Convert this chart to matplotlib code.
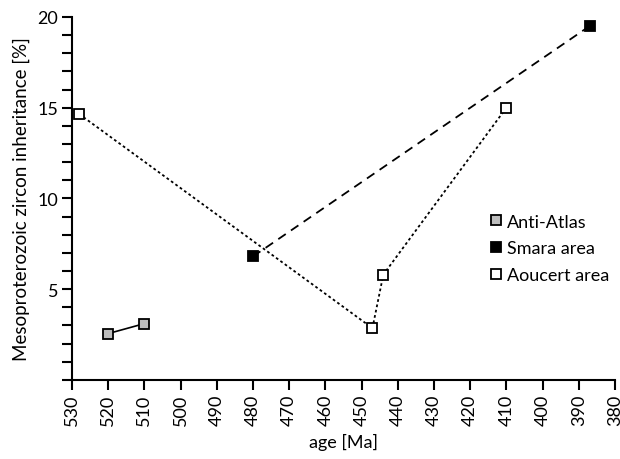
import matplotlib
matplotlib.use("Agg")
import matplotlib.pyplot as plt
from matplotlib.ticker import MultipleLocator

plt.rcParams['font.family'] = ['Lato', 'DejaVu Sans']

# age [Ma] and Mesoproterozoic inheritance [%] per area
anti_atlas_age = [520, 510]
anti_atlas_pct = [2.55, 3.1]
smara_age = [480, 387]
smara_pct = [6.8, 19.5]
aoucert_age = [528, 447, 444, 410]
aoucert_pct = [14.65, 2.85, 5.8, 15.0]

xticks = list(range(530, 379, -10))
yticks = [5, 10, 15, 20]

fig = plt.figure(figsize=(6.2, 4.6), dpi=100)
ax = fig.add_axes([0.116, 0.172, 0.876, 0.789])

ms = 7.4
fs = 13
ax.plot(anti_atlas_age, anti_atlas_pct, color='black', lw=1.2,
        marker='s', ms=ms, mfc='#bdbdbd', mec='black', mew=1.3,
        label='Anti-Atlas', zorder=3)
ax.plot(smara_age, smara_pct, color='black', lw=1.3, dashes=(5, 3.5),
        dash_capstyle='butt', marker='s', ms=ms, mfc='black', mec='black',
        mew=1.3, label='Smara area', zorder=3)
ax.plot(aoucert_age, aoucert_pct, color='black', lw=1.3, dashes=(1.5, 1.5),
        marker='s', ms=ms, mfc='white', mec='black', mew=1.3,
        label='Aoucert area', zorder=3)

ax.set_xlim(530, 380)
ax.set_ylim(0, 20)
ax.set_xticks(xticks)
ax.set_xticklabels([str(t) for t in xticks], rotation=90)
ax.set_yticks(yticks)
ax.yaxis.set_minor_locator(MultipleLocator(1))

for side in ['top', 'right']:
    ax.spines[side].set_visible(False)
for side in ['left', 'bottom']:
    ax.spines[side].set_linewidth(1.5)
ax.tick_params(which='both', direction='out', length=7, width=1.5,
               labelsize=fs, pad=3)

ax.set_xlabel('age [Ma]', fontsize=fs, labelpad=6)
ax.set_ylabel('Mesoproterozoic zircon inheritance [%]', fontsize=13.5, labelpad=5)

leg = ax.legend(loc='upper left', bbox_to_anchor=(0.757, 0.478), frameon=False,
                handlelength=0.6, handletextpad=0.3, labelspacing=0.6,
                borderaxespad=0, fontsize=fs)
for h in leg.legend_handles:
    h.set_linestyle('None')

fig.savefig('out.png', dpi=100)
